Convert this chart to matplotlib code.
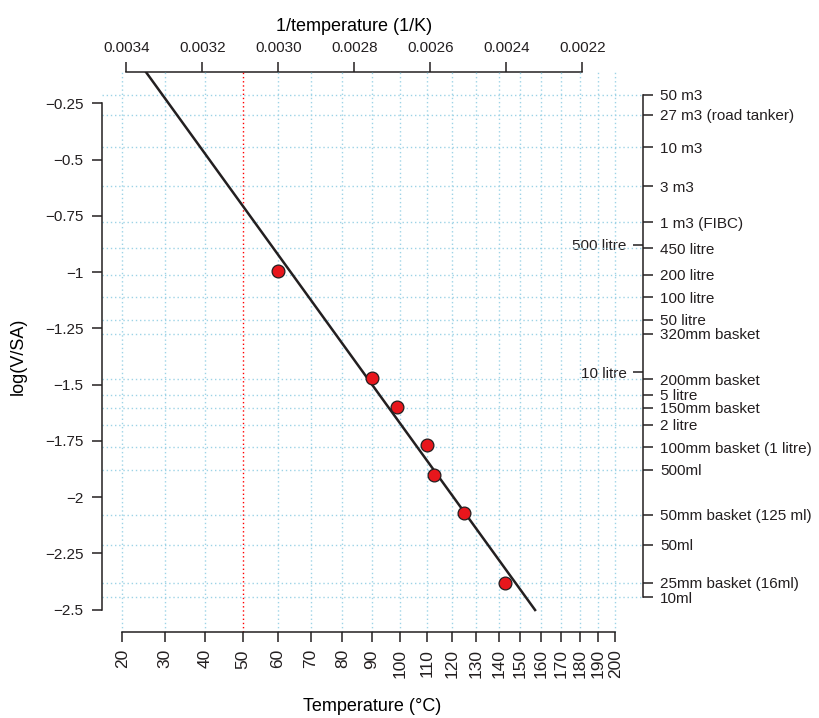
import numpy as np
import matplotlib.pyplot as plt

plt.rcParams['font.family'] = ['Liberation Sans', 'DejaVu Sans']
plt.rcParams['font.size'] = 11
plt.rcParams['axes.linewidth'] = 1.1
plt.rcParams['axes.edgecolor'] = '#231f20'
plt.rcParams['text.color'] = '#231f20'
plt.rcParams['xtick.color'] = '#231f20'
plt.rcParams['ytick.color'] = '#231f20'

# basket tests: ignition temperature (C) against log10(V/SA)
temp_c = np.array([60, 90, 99, 110, 113, 125, 143])
log_vsa = np.array([-0.995, -1.47, -1.60, -1.77, -1.90, -2.07, -2.38])

# ends of the fitted line
fit_temp_c = np.array([25, 157])
fit_log_vsa = np.array([-0.098, -2.502])

# container sizes marked on the right hand axis
vessel_names = ['50 m3', '27 m3 (road tanker)', '10 m3', '3 m3', '1 m3 (FIBC)',
                '450 litre', '200 litre', '100 litre', '50 litre', '320mm basket',
                '200mm basket', '5 litre', '150mm basket', '2 litre',
                '100mm basket (1 litre)', '500ml', '50mm basket (125 ml)', '50ml',
                '25mm basket (16ml)', '10ml']
vessel_logs = [-0.212, -0.301, -0.445, -0.619, -0.778,
               -0.894, -1.011, -1.112, -1.212, -1.273,
               -1.477, -1.545, -1.602, -1.678,
               -1.778, -1.878, -2.079, -2.212,
               -2.380, -2.445]
side_names = ['500 litre', '10 litre']
side_logs = [-0.878, -1.445]

temp_ticks = list(range(20, 201, 10))
inv_ticks = [0.0034, 0.0032, 0.0030, 0.0028, 0.0026, 0.0024, 0.0022]
inv_labels = ['0.0034', '0.0032', '0.0030', '0.0028', '0.0026', '0.0024', '0.0022']
y_ticks = [-0.25, -0.5, -0.75, -1, -1.25, -1.5, -1.75, -2, -2.25, -2.5]
y_labels = ['\u22120.25', '\u22120.5', '\u22120.75', '\u22121', '\u22121.25',
            '\u22121.5', '\u22121.75', '\u22122', '\u22122.25', '\u22122.5']
marked_temp = 50

dark = '#231f20'
grid_col = '#9dd3e6'
dots = (0, (1, 2))


def inv_k(c):
    return 1.0 / (np.asarray(c, dtype=float) + 273.15)


fig = plt.figure(figsize=(8.2, 7.18), dpi=100)
ax = fig.add_axes([0.124, 0.1194, 0.6605, 0.7808])

# dotted grid: one line per container size and per 10 degrees
for v in vessel_logs:
    ax.axhline(v, color=grid_col, lw=1.0, ls=dots, zorder=1)
for c in temp_ticks:
    if c == marked_temp:
        continue
    ax.axvline(inv_k(c), color=grid_col, lw=1.0, ls=dots, zorder=1)
ax.axvline(inv_k(marked_temp), color='red', lw=1.0, ls=dots, zorder=2)

ax.plot(inv_k(fit_temp_c), fit_log_vsa, color=dark, lw=1.8, zorder=3)
ax.plot(inv_k(temp_c), log_vsa, 'o', ms=9.2, mfc='#e8161c', mec=dark, mew=0.9, zorder=4)

ax.set_xlim(0.0034653, 0.00204)
ax.set_ylim(-2.601, -0.1085)

ax.spines[['top', 'right']].set_visible(False)
ax.spines['left'].set_bounds(min(y_ticks), max(y_ticks))
ax.spines['bottom'].set_bounds(inv_k(max(temp_ticks)), inv_k(min(temp_ticks)))

ax.set_xticks(inv_k(temp_ticks))
ax.set_xticklabels([str(c) for c in temp_ticks], rotation=90, fontsize=12.5)
ax.set_yticks(y_ticks)
ax.set_yticklabels(y_labels)
ax.tick_params(axis='x', length=7.2, width=1.1, pad=5)
ax.tick_params(axis='y', length=7.2, width=1.1, pad=6)

ax.set_xlabel('Temperature (\u00b0C)', va='top', fontsize=13)
ax.xaxis.set_label_coords(0.5, -0.1175)
ax.set_ylabel('log(V/SA)', fontsize=13)
ax.yaxis.set_label_coords(-0.1385, 0.492)

# 1/T scale along the top
top = ax.secondary_xaxis('top')
top.set_xticks(inv_ticks, inv_labels)
top.spines['top'].set_bounds(min(inv_ticks), max(inv_ticks))
top.tick_params(length=7.2, width=1.1, pad=5)
top.set_xlabel('1/temperature (1/K)', va='bottom', fontsize=13)
top.xaxis.set_label_coords(0.4658, 1.0655, transform=ax.transAxes)

# container sizes on the right
right = ax.secondary_yaxis('right')
right.set_yticks(vessel_logs, vessel_names)
right.spines['right'].set_bounds(min(vessel_logs), max(vessel_logs))
right.tick_params(length=7.2, width=1.1, pad=5)

side = ax.secondary_yaxis('right')
side.set_yticks(side_logs, side_names)
side.spines['right'].set_visible(False)
side.tick_params(direction='in', length=7.2, width=1.1, pad=-12)
for t in side.get_yticklabels():
    t.set_horizontalalignment('right')

fig.savefig('out.png', dpi=100)
